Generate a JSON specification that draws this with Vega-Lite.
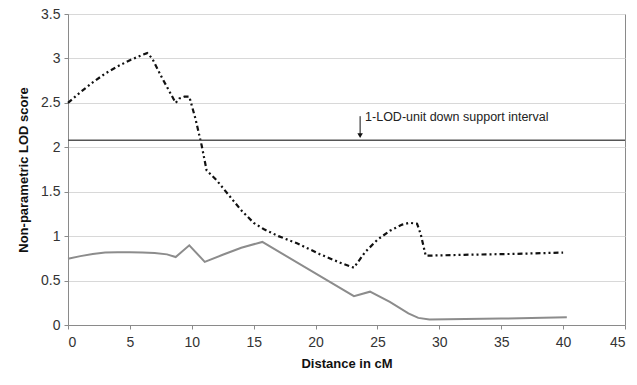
{
  "$schema": "https://vega.github.io/schema/vega-lite/v6.json",
  "width": 557,
  "height": 311,
  "autosize": "none",
  "padding": {"left": 68, "top": 14, "right": 12, "bottom": 60},
  "background": "white",
  "config": {
    "font": "Liberation Sans",
    "view": {"stroke": "#8a8a8a", "strokeWidth": 1},
    "axis": {"labelFont": "Liberation Sans", "titleFont": "Liberation Sans", "labelColor": "#333", "titleColor": "#111", "domainColor": "#8a8a8a", "tickColor": "#8a8a8a", "gridColor": "#d8d8d8"}
  },
  "datasets": {
    "dash": [
      {"x": 0, "y": 2.5}, {"x": 1, "y": 2.62}, {"x": 2, "y": 2.73}, {"x": 3, "y": 2.83}, {"x": 4, "y": 2.91},
      {"x": 5, "y": 2.98}, {"x": 6, "y": 3.04}, {"x": 6.4, "y": 3.06}, {"x": 6.8, "y": 3.0},
      {"x": 7.6, "y": 2.78}, {"x": 8.7, "y": 2.5}, {"x": 9.0, "y": 2.55}, {"x": 9.4, "y": 2.57},
      {"x": 9.8, "y": 2.57}, {"x": 10.3, "y": 2.32}, {"x": 10.8, "y": 2.02}, {"x": 11.2, "y": 1.74},
      {"x": 12, "y": 1.63}, {"x": 13, "y": 1.46}, {"x": 14, "y": 1.29}, {"x": 15, "y": 1.15},
      {"x": 15.8, "y": 1.08}, {"x": 17, "y": 1.0}, {"x": 18.5, "y": 0.92}, {"x": 20.3, "y": 0.8},
      {"x": 22, "y": 0.7}, {"x": 23.1, "y": 0.645}, {"x": 24, "y": 0.82}, {"x": 25, "y": 0.96},
      {"x": 26, "y": 1.06}, {"x": 27, "y": 1.13}, {"x": 27.6, "y": 1.15}, {"x": 28.2, "y": 1.14},
      {"x": 28.5, "y": 1.02}, {"x": 28.9, "y": 0.78}, {"x": 32, "y": 0.79}, {"x": 36, "y": 0.8},
      {"x": 40, "y": 0.815}
    ],
    "solid": [
      {"x": 0, "y": 0.745}, {"x": 1, "y": 0.775}, {"x": 2, "y": 0.8}, {"x": 3, "y": 0.815}, {"x": 4, "y": 0.82},
      {"x": 5, "y": 0.82}, {"x": 6, "y": 0.815}, {"x": 7, "y": 0.81}, {"x": 8, "y": 0.795},
      {"x": 8.7, "y": 0.765}, {"x": 9.8, "y": 0.897}, {"x": 11.05, "y": 0.71}, {"x": 12.5, "y": 0.79},
      {"x": 14, "y": 0.87}, {"x": 15.7, "y": 0.935}, {"x": 23.1, "y": 0.325}, {"x": 24.4, "y": 0.375},
      {"x": 26, "y": 0.26}, {"x": 27.5, "y": 0.13}, {"x": 28.3, "y": 0.08}, {"x": 29.2, "y": 0.062},
      {"x": 35, "y": 0.072}, {"x": 40.3, "y": 0.088}
    ]
  },
  "layer": [
    {
      "data": {"name": "solid"},
      "mark": {"type": "line", "color": "#8c8c8c", "strokeWidth": 2},
      "encoding": {
        "x": {"field": "x", "type": "quantitative", "scale": {"domain": [0, 45], "nice": false},
          "axis": {"values": [0, 5, 10, 15, 20, 25, 30, 35, 40, 45], "grid": false, "title": "Distance in cM", "titleFontSize": 13, "titleFontWeight": "bold", "labelFontSize": 14, "labelPadding": 6, "titlePadding": 8, "tickSize": 4}},
        "y": {"field": "y", "type": "quantitative", "scale": {"domain": [0, 3.5], "nice": false},
          "axis": {"values": [0, 0.5, 1, 1.5, 2, 2.5, 3, 3.5], "format": ".1~f", "grid": true, "title": "Non-parametric LOD score", "titleFontSize": 13, "titleFontWeight": "bold", "labelFontSize": 14, "labelPadding": 4, "titlePadding": 10, "tickSize": 4}}
      }
    },
    {
      "data": {"name": "dash"},
      "mark": {"type": "line", "color": "#111", "strokeWidth": 2.2, "strokeDash": [5, 3, 2, 3, 2, 3]},
      "encoding": {
        "x": {"field": "x", "type": "quantitative"},
        "y": {"field": "y", "type": "quantitative"}
      }
    },
    {
      "data": {"values": [{}]},
      "mark": {"type": "rule", "color": "#555", "strokeWidth": 1.5},
      "encoding": {"y": {"datum": 2.08}}
    },
    {
      "data": {"values": [{}]},
      "mark": {"type": "rule", "color": "#111", "strokeWidth": 1},
      "encoding": {"x": {"datum": 23.6}, "y": {"datum": 2.35}, "y2": {"datum": 2.14}}
    },
    {
      "data": {"values": [{}]},
      "mark": {"type": "point", "shape": "triangle-down", "filled": true, "color": "#111", "size": 30, "opacity": 1},
      "encoding": {"x": {"datum": 23.6}, "y": {"datum": 2.13}}
    },
    {
      "data": {"values": [{"label": "1-LOD-unit down support interval"}]},
      "mark": {"type": "text", "align": "left", "baseline": "middle", "fontSize": 12.5, "color": "#222", "dx": 0},
      "encoding": {"x": {"datum": 24.0}, "y": {"datum": 2.34}, "text": {"field": "label"}}
    }
  ]
}
